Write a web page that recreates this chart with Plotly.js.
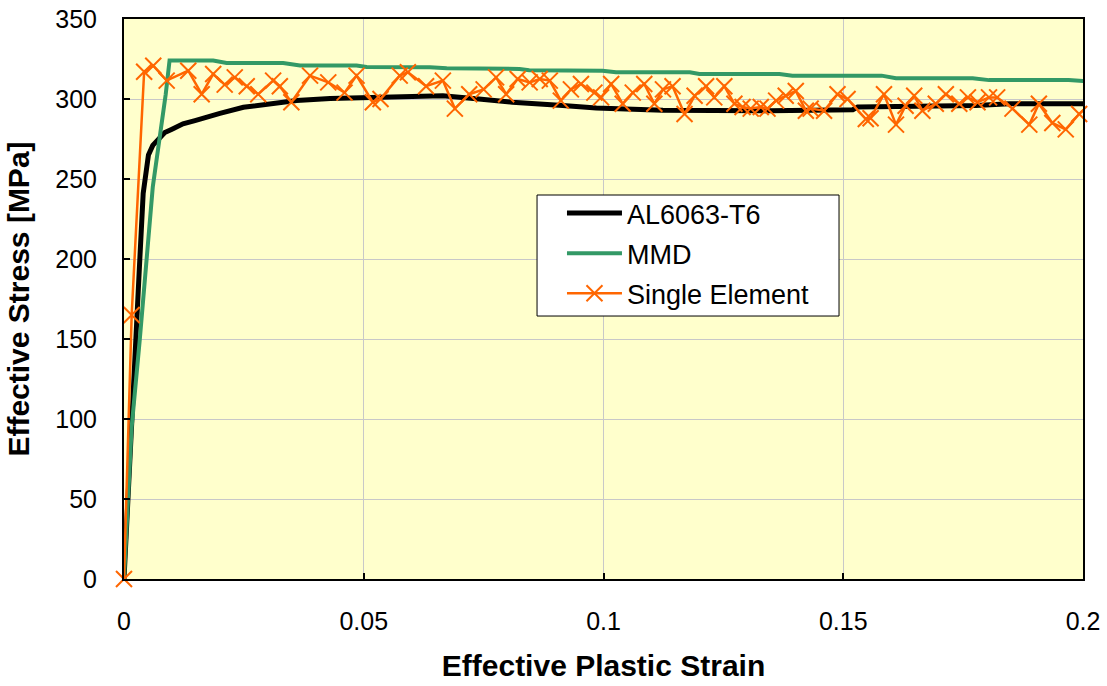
<!DOCTYPE html>
<html>
<head>
<meta charset="utf-8">
<script src="https://cdn.plot.ly/plotly-3.0.1.min.js"></script>
<style>
html,body{margin:0;padding:0;background:#fff;}
#chart{width:1107px;height:686px;}
</style>
</head>
<body>
<div id="chart"></div>
<script>
// AL6063-T6 (black)
var alStrain = [0, 0.0023, 0.0033, 0.0040, 0.0044, 0.0051, 0.0060, 0.0071, 0.0085, 0.0099, 0.0123, 0.0148, 0.0169, 0.0200, 0.0249, 0.0300, 0.0360, 0.0430, 0.0498, 0.0580, 0.0665, 0.0740, 0.0810, 0.0915, 0.0985, 0.1124, 0.1346, 0.1520, 0.1530, 0.1777, 0.1846, 0.2020];
var alStress = [0, 150, 200, 241, 252, 265, 271, 275, 279, 281, 284.5, 286.5, 288, 291, 294.8, 297, 299, 300.3, 301, 301.7, 302, 300, 298, 296, 294.4, 293, 292.7, 293.3, 295, 296, 297, 297];

// MMD (green)
var mmdStrain = [0, 0.0016, 0.0033, 0.0060, 0.0087, 0.0095, 0.0186, 0.0214, 0.0332, 0.0367, 0.0485, 0.0506, 0.0638, 0.0673, 0.0825, 0.0845, 0.0998, 0.1026, 0.1180, 0.1200, 0.1367, 0.1394, 0.1580, 0.1610, 0.1770, 0.1804, 0.1970, 0.2020];
var mmdStress = [0, 95, 150, 245, 303, 324, 324, 322.5, 322.5, 321, 321, 320, 319.8, 319.2, 318.8, 318, 317.7, 316.7, 316.7, 315.6, 315.6, 314.6, 314.6, 313, 313, 311.8, 311.8, 310.8];

// Single Element (orange, x markers)
var seStrain = [0, 0.0016, 0.0042, 0.0061, 0.0089, 0.0134, 0.0162, 0.0186, 0.0210, 0.0231, 0.0256, 0.0280, 0.0311, 0.0325, 0.0349, 0.0388, 0.0426, 0.0460, 0.0485, 0.0519, 0.0535, 0.0575, 0.0592, 0.0630, 0.0665, 0.0690, 0.0720, 0.0750, 0.0776, 0.0797, 0.0821, 0.0846, 0.0867, 0.0888, 0.0911, 0.0932, 0.0953, 0.0981, 0.0995, 0.1016, 0.1040, 0.1061, 0.1085, 0.1106, 0.1124, 0.1144, 0.1169, 0.1190, 0.1214, 0.1231, 0.1252, 0.1273, 0.1290, 0.1307, 0.1328, 0.1342, 0.1360, 0.1380, 0.1401, 0.1422, 0.1432, 0.1460, 0.1488, 0.1509, 0.1547, 0.1557, 0.1585, 0.1610, 0.1630, 0.1648, 0.1665, 0.1693, 0.1714, 0.1742, 0.1760, 0.1780, 0.1804, 0.1821, 0.1853, 0.1888, 0.1908, 0.1936, 0.1964, 0.1992, 0.2015];
var seStress = [0, 165, 317, 320.8, 311.5, 317.7, 303, 315.6, 309, 313.5, 308, 303, 311.5, 308, 298, 314.6, 310.4, 304, 314.6, 298, 300, 314.6, 316.7, 308, 311.5, 294, 303, 306, 313.5, 303, 312.5, 310.4, 312.5, 311.5, 299, 306, 309.4, 304, 301, 309.4, 297, 304, 309.4, 297, 306, 308, 290.6, 302, 308, 301, 308, 297, 295, 294, 295, 294, 299, 302, 305, 292.7, 294, 292.7, 303, 300, 287.5, 288, 303, 284, 295.8, 302, 292.7, 297, 303, 297, 301, 298, 301, 301, 294, 284, 297, 285, 281, 290.6, 297];

var xTickVals = [0, 0.05, 0.1, 0.15, 0.2];
var xTickText = ['0', '0.05', '0.1', '0.15', '0.2'];
var yTickVals = [0, 50, 100, 150, 200, 250, 300, 350];

var FONT = '"Liberation Sans", Arial, Helvetica, sans-serif';

var traces = [
  {x: alStrain, y: alStress, name: 'AL6063-T6', type: 'scatter', mode: 'lines',
   line: {color: '#000000', width: 5}, legendgroup: 'a'},
  {x: mmdStrain, y: mmdStress, name: 'MMD', type: 'scatter', mode: 'lines',
   line: {color: '#339966', width: 4}, legendgroup: 'b'},
  {x: seStrain, y: seStress, name: 'Single Element', type: 'scatter', mode: 'lines+markers',
   line: {color: '#FF6600', width: 2.5},
   marker: {symbol: 'x-thin-open', size: 16, color: '#FF6600', line: {color: '#FF6600', width: 2}},
   legendgroup: 'c', cliponaxis: false}
];

var layout = {
  width: 1107, height: 686,
  margin: {l: 124, r: 24, t: 19, b: 107, pad: 0},
  paper_bgcolor: '#ffffff',
  plot_bgcolor: '#FFFFCC',
  font: {family: FONT, color: '#000000', size: 25},
  showlegend: true,
  legend: {
    x: 0.4567, y: 0.6964, xanchor: 'left', yanchor: 'top',
    bgcolor: 'rgba(0,0,0,0)', borderwidth: 0,
    font: {family: FONT, size: 27, color: '#000000'},
    traceorder: 'grouped', tracegroupgap: 2, itemwidth: 55
  },
  shapes: [{
    type: 'rect', xref: 'paper', yref: 'paper', layer: 'above',
    x0: 0.4307, x1: 0.7456, y0: 0.4696, y1: 0.6857,
    fillcolor: '#ffffff', line: {color: '#000000', width: 1}
  }],
  xaxis: {
    range: [0, 0.2], tickvals: xTickVals, ticktext: xTickText,
    ticks: 'inside', ticklen: 6, tickwidth: 2, tickcolor: '#000000',
    showline: true, linecolor: '#000000', linewidth: 2, mirror: true,
    showgrid: true, gridcolor: '#C8C8C8', gridwidth: 1,
    zeroline: false, ticklabelstandoff: 19,
    tickfont: {family: FONT, size: 25, color: '#000000'},
    title: {text: 'Effective Plastic Strain', standoff: 21,
            font: {family: FONT, size: 30, color: '#000000', weight: 'bold'}}
  },
  yaxis: {
    range: [0, 350], tickvals: yTickVals,
    ticks: 'inside', ticklen: 6, tickwidth: 2, tickcolor: '#000000',
    showline: true, linecolor: '#000000', linewidth: 2, mirror: true,
    showgrid: true, gridcolor: '#C8C8C8', gridwidth: 1,
    zeroline: false, ticklabelstandoff: 20,
    tickfont: {family: FONT, size: 25, color: '#000000'},
    title: {text: 'Effective Stress [MPa]', standoff: 17,
            font: {family: FONT, size: 30, color: '#000000', weight: 'bold'}}
  }
};

Plotly.newPlot('chart', traces, layout, {displayModeBar: false, staticPlot: true});
</script>
</body>
</html>
